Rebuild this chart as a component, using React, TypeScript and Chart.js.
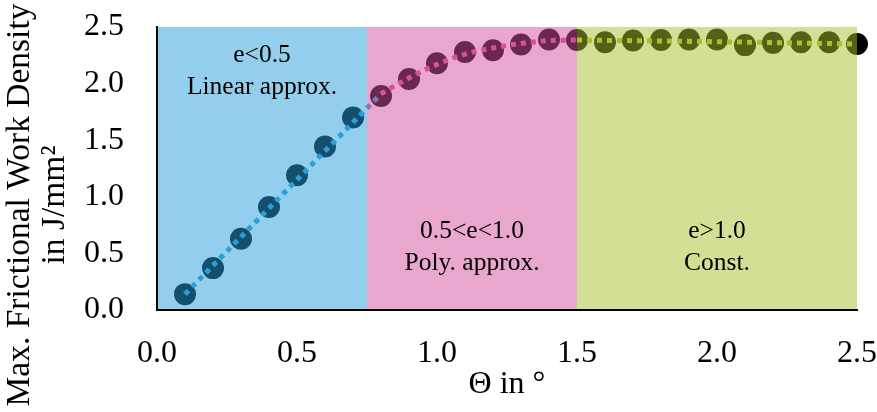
import React, { useEffect, useRef } from 'react';
import { Chart, registerables } from 'chart.js';

Chart.register(...registerables);

// ---- data ----
const thetaValues = [0.1, 0.2, 0.3, 0.4, 0.5, 0.6, 0.7, 0.8, 0.9, 1.0, 1.1, 1.2, 1.3, 1.4, 1.5, 1.6, 1.7, 1.8, 1.9, 2.0, 2.1, 2.2, 2.3, 2.4, 2.5];
const densityValues = [0.14, 0.37, 0.63, 0.91, 1.19, 1.445, 1.70, 1.89, 2.04, 2.18, 2.28, 2.295, 2.345, 2.39, 2.385, 2.365, 2.38, 2.385, 2.39, 2.39, 2.34, 2.36, 2.365, 2.365, 2.35];

const linearTrendX = [0.1, 0.8];
const linearTrendY = [0.14, 1.91];
const polyTrendX = [0.8, 0.9, 1.0, 1.1, 1.2, 1.3, 1.4, 1.5];
const polyTrendY = [1.91, 2.05, 2.17, 2.26, 2.315, 2.355, 2.38, 2.385];
const constTrendX = [1.5, 2.0, 2.5];
const constTrendY = [2.385, 2.37, 2.35];

const regionBounds = [0, 0.75, 1.5, 2.5];
const regionLabels = [
  ['e<0.5', 'Linear approx.'],
  ['0.5<e<1.0', 'Poly. approx.'],
  ['e>1.0', 'Const.'],
];
const xTitle = 'Θ in °';
const yTitleLines = ['Max. Frictional Work Density', 'in J/mm²'];

// ---- styles ----
const FONT = '"Liberation Serif", "Times New Roman", serif';
const regionColors = ['rgba(40,160,220,0.5)', 'rgba(214,80,156,0.5)', 'rgba(168,192,44,0.5)'];
const lineColors = ['rgb(40,160,220)', 'rgb(214,80,156)', 'rgb(168,192,44)'];
const labelBaselines = [[2.195, 1.91], [0.637, 0.35], [0.637, 0.35]];

const zip = (xs: number[], ys: number[]) => xs.map((x, i) => ({ x, y: ys[i] }));

const overlayPlugin = {
  id: 'regionOverlay',
  afterDatasetsDraw(chart: any) {
    const { ctx, chartArea, scales } = chart;
    const xs = scales.x;
    const ys = scales.y;
    ctx.save();
    for (let i = 0; i < regionBounds.length - 1; i++) {
      const x0 = xs.getPixelForValue(regionBounds[i]);
      const x1 = xs.getPixelForValue(regionBounds[i + 1]);
      ctx.fillStyle = regionColors[i];
      ctx.fillRect(x0, chartArea.top, x1 - x0, chartArea.bottom - chartArea.top);
    }
    ctx.fillStyle = '#000';
    ctx.font = `25.5px ${FONT}`;
    ctx.textAlign = 'center';
    ctx.textBaseline = 'alphabetic';
    for (let i = 0; i < regionLabels.length; i++) {
      const cx = xs.getPixelForValue((regionBounds[i] + regionBounds[i + 1]) / 2);
      regionLabels[i].forEach((t, j) => {
        ctx.fillText(t, cx, ys.getPixelForValue(labelBaselines[i][j]));
      });
    }
    ctx.restore();
  },
  afterDraw(chart: any) {
    const { ctx } = chart;
    ctx.save();
    ctx.fillStyle = '#000';
    ctx.font = `33.5px ${FONT}`;
    ctx.textAlign = 'center';
    ctx.textBaseline = 'middle';
    ctx.translate(0, chart.height / 2);
    ctx.rotate(-Math.PI / 2);
    yTitleLines.forEach((t, i) => {
      ctx.fillText(t, 1, 20 + i * 35);
    });
    ctx.restore();
  },
};

export default function App() {
  const ref = useRef<HTMLCanvasElement | null>(null);
  useEffect(() => {
    if (!ref.current) return;
    const lineDs = (data: any[], color: string, cubic: boolean) => ({
      type: 'line' as const,
      data,
      borderColor: color,
      backgroundColor: color,
      borderWidth: 5,
      borderDash: [5, 5],
      borderCapStyle: 'butt',
      pointRadius: 0,
      fill: false,
      tension: cubic ? 0.4 : 0,
      cubicInterpolationMode: cubic ? 'monotone' : 'default',
      order: 0,
      clip: false,
    });
    const chart = new Chart(ref.current, {
      type: 'scatter',
      data: {
        datasets: [
          {
            type: 'scatter',
            data: zip(thetaValues, densityValues),
            backgroundColor: '#000',
            borderColor: '#000',
            borderWidth: 0,
            pointRadius: 11,
            order: 5,
            clip: false,
          } as any,
          lineDs(zip(linearTrendX, linearTrendY), lineColors[0], false) as any,
          lineDs(zip(polyTrendX, polyTrendY), lineColors[1], true) as any,
          lineDs(zip(constTrendX, constTrendY), lineColors[2], false) as any,
        ],
      },
      options: {
        animation: false,
        responsive: true,
        maintainAspectRatio: false,
        layout: { padding: { top: 27, right: 20, left: 0, bottom: 0 } },
        plugins: { legend: { display: false }, tooltip: { enabled: false } },
        scales: {
          x: {
            type: 'linear',
            min: 0,
            max: 2.5,
            grid: { display: false },
            border: { display: true, color: '#000', width: 2, z: 1 },
            ticks: {
              stepSize: 0.5,
              padding: 16,
              color: '#000',
              font: { family: FONT, size: 32 },
              callback: (v: any) => Number(v).toFixed(1),
              maxRotation: 0,
            },
            title: {
              display: true,
              text: xTitle,
              color: '#000',
              font: { family: FONT, size: 32 },
              padding: { top: 0, bottom: 8 },
            },
            afterFit: (s: any) => {
              s.height = 102;
              s.paddingLeft = 0; s.paddingRight = 0; s.paddingTop = 0; s.paddingBottom = 0;
            },
          },
          y: {
            type: 'linear',
            min: 0,
            max: 2.5,
            grid: { display: false },
            border: { display: true, color: '#000', width: 2, z: 1 },
            ticks: {
              stepSize: 0.5,
              padding: 25,
              color: '#000',
              font: { family: FONT, size: 32 },
              callback: (v: any) => Number(v).toFixed(1),
            },
            title: { display: false },
            afterFit: (s: any) => {
              s.width = 157;
              s.paddingLeft = 0; s.paddingRight = 0; s.paddingTop = 0; s.paddingBottom = 0;
            },
          },
        },
      } as any,
      plugins: [overlayPlugin],
    });
    return () => chart.destroy();
  }, []);
  return (
    <div style={{ position: 'fixed', left: 0, top: 0, width: 877, height: 412, background: '#fff' }}>
      <canvas ref={ref} />
    </div>
  );
}
